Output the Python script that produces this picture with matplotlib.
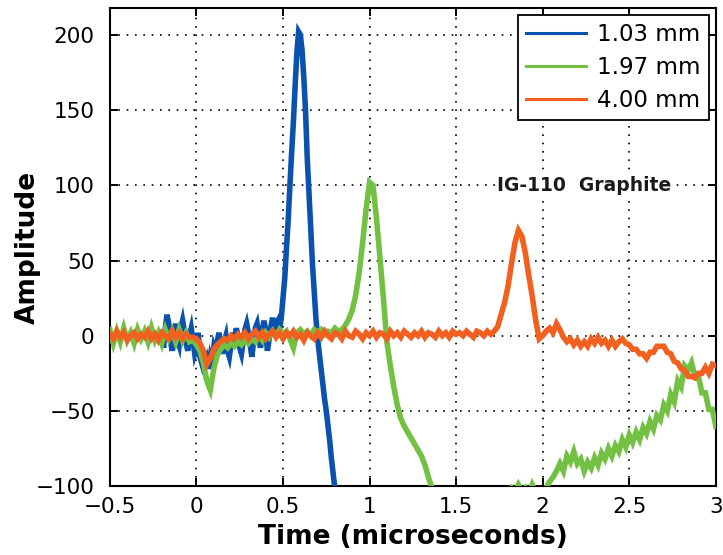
#!/usr/bin/env python3
"""Ultrasonic A-scan traces for IG-110 graphite at three thicknesses."""

import numpy as np
import matplotlib
matplotlib.use("Agg")
import matplotlib.pyplot as plt
from matplotlib.lines import Line2D

# ---- data ----
labels = ["1.03 mm", "1.97 mm", "4.00 mm"]
colors = ["#0a52ad", "#72c143", "#f2601f"]

# 1.03 mm: sampled every 0.01 us from -0.20 us
t0_blue = -0.20
dt_blue = 0.01
amp_blue = [
    2, -8, 5, 14, 8, -4, -10, 2, 8, -2,
    -6, 5, 10, 3, -5, -10, 0, 5, -3, -12,
    -8, 2, -14, -18, -10, -20, -16, -22, -14, -18,
    -8, -12, -4, 2, -6, -12, -4, 0, -10, -14,
    -6, 2, -4, 5, 0, -8, -12, -4, 4, 8,
    2, -6, -14, -4, 5, 8, 0, -8, 3, 10,
    4, -10, -2, 6, 12, 2, 8, 10, 4, 12,
    25, 38, 58, 77, 100, 122, 142, 166, 188, 202,
    200, 190, 172, 150, 118, 95, 72, 48, 30, 12,
    -2, -12, -22, -32, -42, -50, -60, -70, -82, -92,
    -102, -112,
]

# 1.97 mm: sampled every 0.02 us from -0.50 us
t0_green = -0.50
dt_green = 0.02
amp_green = [
    4, -5, 3, -4, 5, -3, 2, -5, 4, -2,
    3, -4, 5, -3, 2, -5, 4, -2, 3, -4,
    4, -3, 2, -4, -3, -6, -10, -18, -30, -36,
    -22, -13, -9, -6, -8, -5, -7, -4, -6, -3,
    -5, -2, -4, 0, -3, 2, -1, 3, 0, 4,
    1, 3, -2, -8, 2, 4, 1, 3, 0, 4,
    2, 4, 1, 3, 2, 5, 3, 4, 7, 11,
    17, 27, 42, 62, 84, 102, 100, 78, 52, 25,
    -4, -20, -34, -46, -55, -60, -64, -68, -72, -76,
    -80, -86, -94, -101, -109, -115, -119, -123, -126, -128,
    -130, -131, -132, -131, -130, -129, -127, -125, -122, -119,
    -116, -113, -110, -107, -105, -103, -101, -104, -99, -103,
    -101, -105, -99, -104, -102, -104, -101, -97, -94, -90,
    -85, -90, -80, -84, -77, -85, -82, -90, -84, -88,
    -81, -86, -78, -82, -75, -80, -73, -77, -69, -74,
    -66, -71, -64, -69, -61, -65, -57, -62, -53, -56,
    -46, -50, -39, -44, -30, -34, -20, -23, -18, -27,
    -27, -38, -38, -49, -49, -60,
]

# 4.00 mm: sampled every 0.02 us from -0.50 us
t0_orange = -0.50
dt_orange = 0.02
amp_orange = [
    1, -2, 3, -1, 2, -3, 0, 2, -2, 1,
    -1, 3, -2, 1, -3, 2, 0, -2, 3, -1,
    2, -2, 1, -1, -1, -2, -5, -10, -19, -15,
    -9, -6, -4, -2, -3, 0, -2, 1, -1, 2,
    -2, 1, 3, -1, 2, -2, 1, 3, -1, 2,
    -2, 2, 0, 3, -1, 1, -3, 2, 0, -2,
    2, -1, 3, 0, -2, 2, 1, -2, 3, 0,
    -1, 3, 1, -2, 2, 0, 3, -1, 2, 1,
    -2, 3, 0, 2, -1, 3, 1, -1, 2, 0,
    3, -1, 2, 1, -1, 3, 0, 2, -1, 3,
    1, 2, 0, 3, 1, -1, 3, 2, 0, 3,
    1, 3, 6, 14, 22, 33, 48, 62, 70, 66,
    55, 40, 26, 10, -2, 0, 3, 5, 2, 8,
    4, -1, -4, -2, -6, -3, -7, -4, -7, -2,
    -5, -1, -5, -3, -7, -3, -7, -4, -2, -5,
    -6, -9, -9, -12, -12, -15, -11, -11, -7, -7,
    -7, -11, -12, -17, -18, -22, -23, -27, -27, -28,
    -25, -25, -21, -25, -19, -20,
]

x_ticks = [-0.5, 0, 0.5, 1, 1.5, 2, 2.5, 3]
x_ticklabels = ["\u22120.5", "0", "0.5", "1", "1.5", "2", "2.5", "3"]
y_ticks = [-100, -50, 0, 50, 100, 150, 200]

plt.rcParams["font.family"] = "DejaVu Sans"

fig = plt.figure(figsize=(7.23, 5.55), dpi=100)
ax = fig.add_axes([0.152, 0.124, 0.838, 0.862])

series = [
    (t0_blue, dt_blue, amp_blue),
    (t0_green, dt_green, amp_green),
    (t0_orange, dt_orange, amp_orange),
]
for (t0, dt, amp), c in zip(series, colors):
    t = t0 + dt * np.arange(len(amp))
    ax.plot(t, amp, color=c, lw=4.0, solid_joinstyle="miter", zorder=3)

ax.set_xlim(-0.5, 3.0)
ax.set_ylim(-100, 218)
ax.set_xticks(x_ticks)
ax.set_xticklabels(x_ticklabels)
ax.set_yticks(y_ticks)
ax.tick_params(direction="in", length=6, width=1.4, labelsize=15.5,
               top=True, right=True)
ax.tick_params(axis="y", pad=11)
ax.tick_params(axis="x", pad=8)
for s in ax.spines.values():
    s.set_linewidth(1.5)
ax.grid(True, color="black", linestyle=(0, (1, 4)), linewidth=1.2)
ax.set_axisbelow(True)

ax.set_xlabel("Time (microseconds)", fontsize=19, fontweight="bold", labelpad=5)
ax.set_ylabel("Amplitude", fontsize=19, fontweight="bold", labelpad=-4)

ax.text(2.24, 100, "IG-110  Graphite", fontsize=13.5, fontweight="bold",
        ha="center", va="center", color="#1a1a1a", zorder=4,
        bbox=dict(facecolor="white", edgecolor="none", pad=1))

handles = [Line2D([0], [0], color=c, lw=2.2) for c in colors]
leg = ax.legend(handles, labels, loc="upper right", fontsize=16.5,
                frameon=True, fancybox=False, framealpha=1,
                edgecolor="black", handlelength=2.6, borderaxespad=0.3,
                labelspacing=0.45, handletextpad=0.5, borderpad=0.35)
leg.get_frame().set_linewidth(1.3)
leg.set_zorder(5)

fig.savefig("out.png", dpi=100)
